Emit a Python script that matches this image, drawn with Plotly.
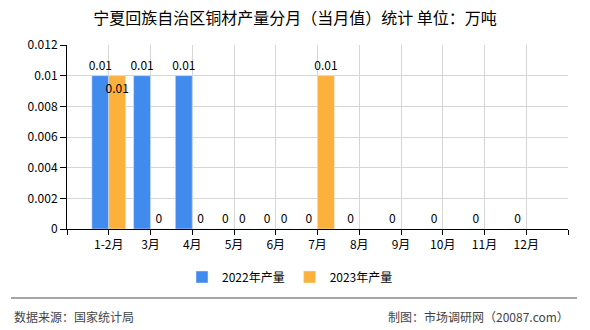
import plotly.graph_objects as go

months = ["1-2月", "3月", "4月", "5月", "6月", "7月", "8月", "9月", "10月", "11月", "12月"]
prod_2022 = [0.01, 0.01, 0.01, 0, 0, 0, 0, 0, 0, 0, 0]
prod_2023 = [0.01, 0, 0, 0, 0, 0.01, None, None, None, None, None]
series_names = ["2022年产量", "2023年产量"]
colors = ["#428BEE", "#FBB13C"]

FONT = "Noto Sans CJK SC"
pos = list(range(len(months)))

def fmt(v):
    if v is None:
        return ""
    return "0" if v == 0 else f"{v:g}"

fig = go.Figure()
fig.add_trace(go.Bar(
    x=pos, y=prod_2022, name=series_names[0], marker_color=colors[0],
    text=[fmt(v) for v in prod_2022], textposition="outside", textangle=0,
    textfont=dict(family=FONT, size=12, color="#000"),
    constraintext="none", cliponaxis=False,
))
pos23 = ["inside" if (i == 0) else "outside" for i in range(len(months))]
fig.add_trace(go.Bar(
    x=pos, y=prod_2023, name=series_names[1], marker_color=colors[1],
    text=[fmt(v) for v in prod_2023], textposition=pos23, textangle=0,
    insidetextanchor="end",
    textfont=dict(family=FONT, size=12, color="#000"),
    insidetextfont=dict(family=FONT, size=12, color="#000"),
    outsidetextfont=dict(family=FONT, size=12, color="#000"),
    constraintext="none", cliponaxis=False,
))

H = 184.0
def py(pix):
    return (229 - pix) / H

def px(pix):
    return (pix - 67) / 501.0

fig.update_layout(
    width=590, height=330,
    margin=dict(l=67, r=22, t=45, b=101),
    paper_bgcolor="white", plot_bgcolor="white",
    barmode="group", bargap=0.19, bargroupgap=0,
    font=dict(family=FONT, size=12, color="#000"),
    title=dict(text="宁夏回族自治区铜材产量分月（当月值）统计 单位：万吨",
               x=0.5, xanchor="center", y=1 - 18 / 330, yanchor="middle",
               font=dict(family=FONT, size=16, color="#000")),
    showlegend=True,
    legend=dict(orientation="h", x=px(290), xanchor="center", y=py(277), yanchor="middle",
                font=dict(family=FONT, size=12, color="#000"), itemwidth=30,
                traceorder="normal"),
    xaxis=dict(
        range=[-1, 11],
        tickvals=[-1] + pos + [11], ticktext=[""] + months + [""],
        showgrid=True, gridcolor="#D6D6D6", gridwidth=1,
        ticks="outside", ticklen=5, tickcolor="#000",
        showline=True, linecolor="#000", linewidth=1, zeroline=False,
        tickfont=dict(family=FONT, size=12, color="#000"),
    ),
    yaxis=dict(
        range=[0, 0.012], dtick=0.002, tick0=0,
        showgrid=True, gridcolor="#D6D6D6", gridwidth=1,
        ticks="outside", ticklen=6, tickcolor="#000",
        showline=True, linecolor="#000", linewidth=1, zeroline=False,
        tickfont=dict(family=FONT, size=12, color="#000"),
    ),
)

fig.add_shape(type="line", xref="paper", yref="paper",
              x0=px(11), x1=px(577), y0=py(298), y1=py(298),
              line=dict(color="#888888", width=1.5))
fig.add_annotation(xref="paper", yref="paper", x=px(12), y=py(316),
                   xanchor="left", yanchor="middle", showarrow=False,
                   text="数据来源：国家统计局",
                   font=dict(family=FONT, size=12, color="#444"))
fig.add_annotation(xref="paper", yref="paper", x=px(571), y=py(316),
                   xanchor="right", yanchor="middle", showarrow=False,
                   text="制图：市场调研网（20087.com）",
                   font=dict(family=FONT, size=12, color="#444"))

fig.write_html("out.html")
